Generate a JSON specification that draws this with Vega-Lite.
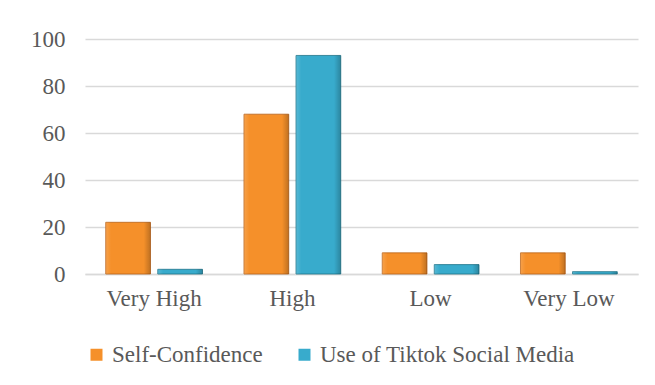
{
  "$schema": "https://vega.github.io/schema/vega-lite/v6.json",
  "width": 553,
  "height": 235,
  "autosize": {"type": "none"},
  "padding": {"left": 85, "top": 39, "right": 17, "bottom": 111},
  "background": "white",
  "data": {
    "values": [
      {"level": "Very High", "series": "Self-Confidence", "value": 22},
      {"level": "Very High", "series": "Use of Tiktok Social Media", "value": 2},
      {"level": "High", "series": "Self-Confidence", "value": 68},
      {"level": "High", "series": "Use of Tiktok Social Media", "value": 93},
      {"level": "Low", "series": "Self-Confidence", "value": 9},
      {"level": "Low", "series": "Use of Tiktok Social Media", "value": 4},
      {"level": "Very Low", "series": "Self-Confidence", "value": 9},
      {"level": "Very Low", "series": "Use of Tiktok Social Media", "value": 1}
    ]
  },
  "encoding": {
    "x": {
      "field": "level", "type": "nominal", "sort": null, "title": null,
      "scale": {"paddingInner": 0.3, "paddingOuter": 0.15},
      "axis": {"labelAngle": 0, "ticks": false, "domainColor": "#d9d9d9", "domainWidth": 1.5, "labelPadding": 13}
    },
    "xOffset": {"field": "series", "type": "nominal", "scale": {"paddingInner": 0.14}},
    "y": {
      "field": "value", "type": "quantitative", "title": null,
      "scale": {"domain": [0, 100]},
      "axis": {"values": [0, 20, 40, 60, 80, 100], "ticks": false, "domain": false, "labelPadding": 20, "gridColor": "#d9d9d9", "gridWidth": 1.5}
    }
  },
  "layer": [
    {
      "mark": {"type": "bar", "strokeWidth": 0.8},
      "encoding": {
        "color": {
          "field": "series", "type": "nominal",
          "scale": {"domain": ["Self-Confidence", "Use of Tiktok Social Media"], "range": ["#F5902A", "#38ABCC"]},
          "legend": {"title": null, "orient": "bottom", "direction": "horizontal", "symbolType": "square", "symbolSize": 144, "columnPadding": 30, "offset": 33, "labelFontSize": 23, "labelFont": "Liberation Serif, DejaVu Serif, serif", "labelColor": "#595959", "labelLimit": 0, "symbolStrokeWidth": 0}
        },
        "stroke": {
          "field": "series", "type": "nominal",
          "scale": {"domain": ["Self-Confidence", "Use of Tiktok Social Media"], "range": ["#B8621A", "#1F7389"]},
          "legend": null
        }
      }
    },
    {
      "mark": {
        "type": "bar",
        "fill": {
          "gradient": "linear", "x1": 0, "y1": 0, "x2": 1, "y2": 0,
          "stops": [
            {"offset": 0, "color": "rgba(255,255,255,0.15)"},
            {"offset": 0.12, "color": "rgba(255,255,255,0)"},
            {"offset": 0.85, "color": "rgba(0,0,0,0)"},
            {"offset": 1, "color": "rgba(0,0,0,0.22)"}
          ]
        }
      },
      "encoding": {"detail": {"field": "series"}}
    }
  ],
  "config": {
    "view": {"stroke": null},
    "font": "Liberation Serif, DejaVu Serif, serif",
    "axis": {"labelFont": "Liberation Serif, DejaVu Serif, serif", "labelFontSize": 23, "labelColor": "#595959"}
  }
}
